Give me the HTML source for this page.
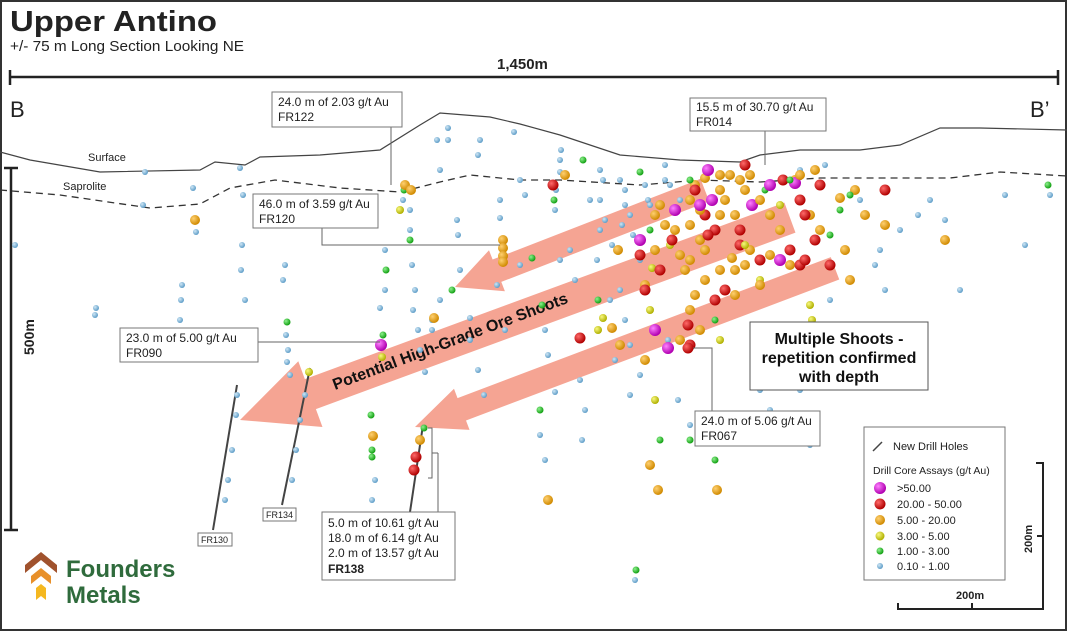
<!DOCTYPE html>
<html><head><meta charset="utf-8"><style>
html,body{margin:0;padding:0;background:#fff}
svg{display:block}
text{font-family:"Liberation Sans",sans-serif}
</style></head><body>
<svg id="s" width="1067" height="631" viewBox="0 0 1067 631" xmlns="http://www.w3.org/2000/svg">
<defs>
<radialGradient id="gb" cx="35%" cy="35%" r="65%"><stop offset="0" stop-color="#cfe6f5"/><stop offset="1" stop-color="#5f9ec8"/></radialGradient>
<radialGradient id="gg" cx="35%" cy="35%" r="65%"><stop offset="0" stop-color="#8ef08e"/><stop offset="1" stop-color="#12a012"/></radialGradient>
<radialGradient id="gy" cx="35%" cy="35%" r="65%"><stop offset="0" stop-color="#f8f880"/><stop offset="1" stop-color="#b0b000"/></radialGradient>
<radialGradient id="go" cx="35%" cy="35%" r="65%"><stop offset="0" stop-color="#ffd070"/><stop offset="1" stop-color="#d08a00"/></radialGradient>
<radialGradient id="gr" cx="35%" cy="35%" r="65%"><stop offset="0" stop-color="#ff6a6a"/><stop offset="1" stop-color="#b00000"/></radialGradient>
<radialGradient id="gm" cx="35%" cy="35%" r="65%"><stop offset="0" stop-color="#ff80ff"/><stop offset="1" stop-color="#b000b0"/></radialGradient>
</defs>
<rect x="1" y="1" width="1065" height="629" fill="#fff" stroke="#333" stroke-width="2"/>
<text x="10" y="31" font-size="29" font-weight="bold" fill="#222" textLength="207" lengthAdjust="spacingAndGlyphs">Upper Antino</text>
<text x="10" y="51" font-size="15" fill="#222" textLength="234" lengthAdjust="spacingAndGlyphs">+/- 75 m Long Section Looking NE</text>
<line x1="10" y1="77" x2="1058" y2="77" stroke="#222" stroke-width="2.5"/>
<line x1="10" y1="70" x2="10" y2="85" stroke="#222" stroke-width="2.5"/>
<line x1="1058" y1="70" x2="1058" y2="85" stroke="#222" stroke-width="2.5"/>
<text x="497" y="69" font-size="15" font-weight="bold" fill="#222">1,450m</text>
<text x="10" y="117" font-size="22" fill="#222">B</text>
<text x="1030" y="117" font-size="22" fill="#222">B’</text>
<line x1="11" y1="168" x2="11" y2="530" stroke="#222" stroke-width="2.5"/>
<line x1="4" y1="168" x2="18" y2="168" stroke="#222" stroke-width="2.5"/>
<line x1="4" y1="530" x2="18" y2="530" stroke="#222" stroke-width="2.5"/>
<text transform="translate(34,355) rotate(-90)" font-size="14" font-weight="bold" fill="#222">500m</text>
<polyline fill="none" stroke="#444" stroke-width="1.2" points="0,152 30,160 100,172 200,170 215,162 245,165 260,157 320,155 380,150 420,125 440,113 490,117 520,124 560,135 620,155 680,160 740,162 760,155 800,150 860,150 900,145 940,128 980,128 1067,130"/>
<polyline fill="none" stroke="#333" stroke-width="1.3" stroke-dasharray="7,5" points="0,190 60,195 150,208 200,204 230,188 275,180 340,188 400,192 440,182 470,175 520,180 560,180 640,185 700,180 760,182 820,178 880,178 950,178 1000,172 1067,176"/>
<text x="88" y="161" font-size="11" fill="#222">Surface</text>
<text x="63" y="190" font-size="11" fill="#222">Saprolite</text>
<g fill="#f5a08e" opacity="0.95">
<polygon transform="translate(455,287) rotate(-21.2)" points="0,0 45,-22 45,-12 268,-12 268,12 45,12 45,22"/>
<polygon transform="translate(240,420) rotate(-20.2)" points="0,0 75,-35 75,-16 586,-16 586,16 75,16 75,35"/>
<polygon transform="translate(415,427) rotate(-20.7)" points="0,0 50,-22 50,-12 449,-12 449,12 50,12 50,22"/>
</g>
<text transform="translate(335,390) rotate(-20.5)" font-size="16" font-weight="bold" fill="#111">Potential High-Grade Ore Shoots</text>
<g stroke="#444" stroke-width="2">
<line x1="237" y1="385" x2="213" y2="530"/><line x1="310" y1="368" x2="282" y2="505"/><line x1="423" y1="425" x2="410" y2="512"/>
</g>
<g id="dots"></g>
<g stroke="#666" stroke-width="1" fill="none">
<polyline points="391,127 391,185"/><polyline points="322,228 322,245 500,245"/><polyline points="765,131 765,165"/><polyline points="258,342 380,342"/><polyline points="712,411 712,348 693,348"/><polyline points="428,428 432,428 432,478 428,478"/><line x1="432" y1="453" x2="438" y2="453"/><line x1="438" y1="453" x2="438" y2="512"/>
</g>
<g fill="#fff" stroke="#777" stroke-width="1">
<rect x="272" y="92" width="130" height="35"/><rect x="253" y="194" width="125" height="34"/><rect x="690" y="98" width="136" height="33"/><rect x="120" y="328" width="138" height="34"/><rect x="695" y="411" width="125" height="35"/><rect x="750" y="322" width="178" height="68" stroke="#555"/><rect x="322" y="512" width="133" height="68"/><rect x="198" y="533" width="34" height="13"/><rect x="263" y="508" width="33" height="13"/><rect x="864" y="427" width="141" height="153"/>
</g>
<g font-size="12" fill="#222">
<text x="278" y="106">24.0 m of 2.03 g/t Au</text><text x="278" y="121">FR122</text>
<text x="259" y="208">46.0 m of 3.59 g/t Au</text><text x="259" y="223">FR120</text>
<text x="696" y="111">15.5 m of 30.70 g/t Au</text><text x="696" y="126">FR014</text>
<text x="126" y="342">23.0 m of 5.00 g/t Au</text><text x="126" y="357">FR090</text>
<text x="701" y="425">24.0 m of 5.06 g/t Au</text><text x="701" y="440">FR067</text>
<text x="328" y="527">5.0 m of 10.61 g/t Au</text><text x="328" y="542">18.0 m of 6.14 g/t Au</text><text x="328" y="557">2.0 m of 13.57 g/t Au</text><text x="328" y="573" font-weight="bold">FR138</text>
<text x="201" y="543" font-size="9">FR130</text><text x="266" y="518" font-size="9">FR134</text>
</g>
<g font-size="16" font-weight="bold" fill="#111" text-anchor="middle">
<text x="839" y="344">Multiple Shoots -</text><text x="839" y="363">repetition confirmed</text><text x="839" y="382">with depth</text>
</g>
<g font-size="11" fill="#222">
<line x1="873" y1="451" x2="882" y2="442" stroke="#444" stroke-width="1.5"/>
<text x="893" y="450">New Drill Holes</text>
<text x="873" y="474" font-size="10.5">Drill Core Assays (g/t Au)</text>
<circle cx="880" cy="488" r="6" fill="url(#gm)"/><text x="897" y="492">&gt;50.00</text>
<circle cx="880" cy="504" r="5.5" fill="url(#gr)"/><text x="897" y="508">20.00 - 50.00</text>
<circle cx="880" cy="520" r="5" fill="url(#go)"/><text x="897" y="524">5.00 - 20.00</text>
<circle cx="880" cy="536" r="4.5" fill="url(#gy)"/><text x="897" y="540">3.00 - 5.00</text>
<circle cx="880" cy="551" r="3.5" fill="url(#gg)"/><text x="897" y="555">1.00 - 3.00</text>
<circle cx="880" cy="566" r="3" fill="url(#gb)"/><text x="897" y="570">0.10 - 1.00</text>
</g>
<g stroke="#222" stroke-width="2" fill="none">
<polyline points="898,603 898,609 1043,609 1043,463 1036,463"/><line x1="972" y1="603" x2="972" y2="609"/><line x1="1043" y1="536" x2="1037" y2="536"/>
</g>
<text x="956" y="599" font-size="11" font-weight="bold" fill="#222">200m</text>
<text transform="translate(1032,553) rotate(-90)" font-size="11" font-weight="bold" fill="#222">200m</text>
<g>
<polygon points="25,565 41,552 57,565 57,573 41,560 25,573" fill="#a0522d"/>
<polygon points="31,576 41,568 51,576 51,584 41,576 31,584" fill="#e8902a"/>
<polygon points="36,588 41,584 46,588 46,600 41,596 36,600" fill="#f5b820"/>
</g>
<text x="66" y="577" font-size="24" font-weight="bold" fill="#2f6b3c">Founders</text>
<text x="66" y="603" font-size="24" font-weight="bold" fill="#2f6b3c">Metals</text>
<script>
var g=document.getElementById('dots'),ns='http://www.w3.org/2000/svg';
var R={b:3,g:3.5,y:4,o:5,r:5.5,m:6};
var d="b145,172 b143,205 b193,188 o195,220 b196,232 b240,168 b243,195 b242,245 b241,270 b245,300 b182,285 b181,300 b180,320 b96,308 b95,315 b15,245 g287,322 b286,335 b288,350 b287,362 b290,375 b285,265 b283,280 g383,335 m381,345 y382,357 b237,395 b236,415 b232,450 b228,480 b225,500 y309,372 b305,395 b300,420 b296,450 b292,480 g371,415 o373,436 g372,450 g372,457 b375,480 b372,500 g424,428 o420,440 r416,457 r414,470 b440,170 b437,140 b448,128 b448,140 b480,140 b478,155 b514,132 b520,180 b525,195 b500,200 b500,218 o503,240 o503,248 o503,256 o503,262 b497,285 b457,220 b458,235 b460,270 g452,290 b440,300 b432,320 o434,318 b432,330 b410,210 b410,230 g410,240 b412,265 b415,290 b413,310 b418,330 b420,350 b425,372 b380,308 b385,290 g386,270 b385,250 g404,190 o405,185 o411,190 y400,210 b403,200 b470,318 b470,340 b478,370 b484,395 b505,330 g542,305 b545,330 b548,355 b555,392 b580,380 b585,410 b582,440 g540,410 b540,435 b545,460 o548,500 o658,490 g660,440 o650,465 g715,460 o717,490 b635,580 g636,570 b560,160 b561,150 b560,172 b556,190 b555,210 g583,160 b600,170 b603,180 b600,200 b605,220 b600,230 b612,245 b620,180 b625,190 b625,205 b630,215 b622,225 g640,172 b645,185 b648,200 b633,235 b640,260 b620,290 b610,300 b625,320 b630,345 b640,375 b630,395 b668,340 b690,425 b570,250 b575,280 b590,200 b597,260 g598,300 y603,318 y598,330 o612,328 r580,338 o620,345 b615,360 o618,250 o655,250 o645,285 r640,255 r645,290 m640,240 y652,268 o690,260 o705,250 o700,240 r705,215 m712,200 o700,210 o690,200 o695,185 g690,180 o705,178 o720,190 o725,200 o720,215 r715,230 o735,215 m752,205 r740,230 r740,245 o732,258 o750,250 o720,270 o745,265 r760,260 m780,260 o790,265 r790,250 r800,265 r805,260 o770,255 y745,245 o780,230 o770,215 g765,190 m770,185 r783,180 o795,180 m795,183 r800,200 o810,215 o820,230 g830,235 r830,265 r805,215 y780,205 o760,200 o745,190 o740,180 m708,170 o730,175 o750,175 r745,165 o720,175 r695,190 r708,235 o690,225 o675,230 o680,255 r660,270 y670,245 o665,225 o655,215 b650,205 o685,270 y760,280 m655,330 m668,348 r690,345 o680,340 r688,325 o700,330 o690,310 o695,295 o705,280 r715,300 g715,320 y720,340 r725,290 o735,270 o760,285 o735,295 g790,180 b800,170 b825,165 o855,190 o845,250 o850,280 b830,300 y810,305 y812,320 o820,350 r800,340 b800,390 y815,420 b810,445 b760,390 b770,410 b785,380 r885,190 o815,170 r815,240 g850,195 b860,200 o885,225 b900,230 b880,250 b930,200 b918,215 o945,240 b945,220 b960,290 g1075,180 b1005,195 b1050,195 g1048,185 b1025,245 o800,175 o840,198 g840,210 r820,185 o865,215 b875,265 b885,290 b560,260 g532,258 b520,265 r553,185 o565,175 g554,200 b670,185 b678,400 g690,440 y655,400 r688,348 o645,360 y650,310 g650,230 m675,210 o660,205 m700,205 r672,240 b665,180 b665,165 b680,200";
d.split(' ').forEach(function(t){var c=t[0],xy=t.slice(1).split(',');var e=document.createElementNS(ns,'circle');e.setAttribute('cx',xy[0]);e.setAttribute('cy',xy[1]);e.setAttribute('r',R[c]);e.setAttribute('fill','url(#g'+c+')');g.appendChild(e);});
</script>
</svg>
</body></html>
